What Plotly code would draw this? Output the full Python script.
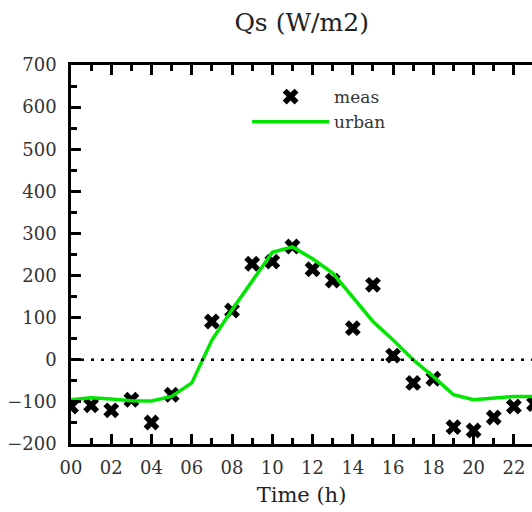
import plotly.graph_objects as go

hours = list(range(24))
meas = [-111, -108, -120, -95, -149, -83, None, 91, 117, 228, 233, 269,
        215, 188, 75, 178, 10, -55, -45, -160, -168, -137, -111, -105]
urban = [-95, -90, -93, -97, -98, -87, -55, 47, 119, 188, 255, 268,
         240, 206, 150, 91, 47, 0, -40, -83, -95, -91, -87, -87]
xtick_vals = list(range(0, 24, 2))
xtick_text = ["%02d" % h for h in xtick_vals]
ytick_vals = list(range(-200, 701, 100))

FONT = "DejaVu Serif"
fig = go.Figure()
fig.add_trace(go.Scatter(x=hours, y=meas, mode="markers", name="meas",
                         marker=dict(symbol="x", size=14, color="black",
                                     line=dict(width=0))))
fig.add_trace(go.Scatter(x=hours, y=urban, mode="lines", name="urban",
                         line=dict(color="#00e600", width=3.5)))
fig.add_shape(type="line", xref="paper", x0=0, x1=1, yref="y", y0=0, y1=0,
              line=dict(color="black", width=2.5, dash="3px,7px"))

tickfont = dict(family=FONT, size=18, color="#333333")
fig.update_layout(
    width=532, height=512,
    margin=dict(l=71, r=0, t=65, b=68),
    paper_bgcolor="white", plot_bgcolor="white",
    title=dict(text="Qs (W/m2)", x=0.567, xanchor="center", y=0.957,
               yanchor="middle", font=dict(family=FONT, size=25, color="#222222")),
    showlegend=True,
    legend=dict(x=0.382, y=0.963, xanchor="left", yanchor="top",
                font=dict(family=FONT, size=17, color="#333333"),
                itemwidth=77, bgcolor="rgba(0,0,0,0)", tracegroupgap=0),
    xaxis=dict(range=[0, 22.9], tickvals=xtick_vals, ticktext=xtick_text,
               ticks="inside", ticklen=10, tickwidth=2.5, tickcolor="black",
               minor=dict(dtick=1, tick0=0, ticks="inside", ticklen=6,
                          tickwidth=2.5, tickcolor="black"),
               showline=True, linecolor="black", linewidth=2.5,
               mirror="allticks", showgrid=False, zeroline=False,
               tickfont=tickfont, ticklabelstandoff=6,
               title=dict(text="Time (h)", font=dict(family=FONT, size=21,
                                                     color="#222222"),
                          standoff=10)),
    yaxis=dict(range=[-200, 700], tickvals=ytick_vals,
               ticks="inside", ticklen=10, tickwidth=2.5, tickcolor="black",
               minor=dict(dtick=50, tick0=0, ticks="inside", ticklen=6,
                          tickwidth=2.5, tickcolor="black"),
               showline=True, linecolor="black", linewidth=2.5,
               mirror=False, showgrid=False, zeroline=False,
               tickfont=tickfont, ticklabelstandoff=8),
    yaxis2=dict(range=[-200, 700], overlaying="y", side="right",
                tickvals=ytick_vals, showticklabels=False,
                ticks="inside", ticklen=10, tickwidth=2.5, tickcolor="black",
                minor=dict(dtick=50, tick0=0, ticks="inside", ticklen=6,
                           tickwidth=2.5, tickcolor="black"),
                showline=False, showgrid=False, zeroline=False),
)
fig.write_html("out.html")
